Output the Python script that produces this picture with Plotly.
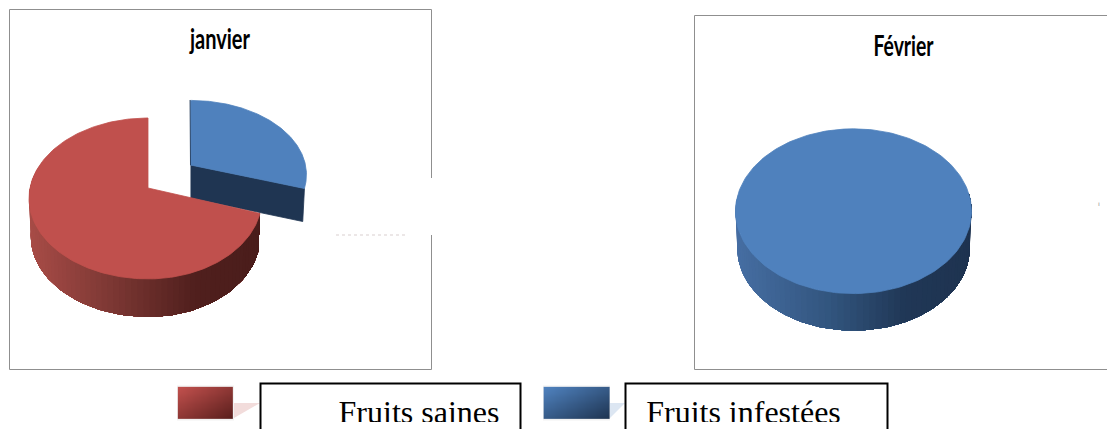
import numpy as np
import plotly.graph_objects as go

# Data
categories = ["Fruits saines", "Fruits infestées"]
months = ["janvier", "Février"]
janvier_values = [70, 30]
fevrier_values = [0, 100]

RED_TOP = "#C0504D"
BLUE_TOP = "#4F81BD"
BLUE_DARK = "#1F3552"
RED_WALL = [(0.0, (168, 76, 71)), (0.35, (125, 56, 52)), (0.72, (80, 31, 29)), (1.0, (74, 29, 27))]
BLUE_WALL = [(0.0, (70, 110, 163)), (0.4, (50, 85, 126)), (0.72, (32, 55, 86)), (1.0, (30, 51, 80))]

fig = go.Figure()


def poly(xs, ys, color, line=True):
    fig.add_trace(go.Scatter(
        x=list(xs), y=list(ys), mode="lines", fill="toself", fillcolor=color,
        line=dict(color=color, width=0.8 if line else 0),
        hoverinfo="skip", showlegend=False))


def rim(theta_deg, g, lower=False):
    """Projects pie angles (clockwise from 12 o'clock) on to the tilted disc."""
    t = np.radians(np.asarray(theta_deg, dtype=float))
    u, v = np.sin(t), -np.cos(t)
    w = 1 - g["k"] * v
    shrink = g["shrink"] if lower else 1.0
    b = np.where(u < 0, g["b_left"], g["b_right"]) * shrink
    x = g["x"] + b * u / w
    y = g["y"] + g["a"] * v / w + (g["depth"] if lower else 0)
    return x, y


def wall_colour(f, stops):
    f = min(max(f, 0), 1)
    for (f0, c0), (f1, c1) in zip(stops, stops[1:]):
        if f <= f1:
            m = (f - f0) / (f1 - f0)
            c = [round(p + (q - p) * m) for p, q in zip(c0, c1)]
            return f"rgb({c[0]},{c[1]},{c[2]})"
    return f"rgb{stops[-1][1]}"


def side_wall(start, end, g, stops):
    # Painted from the far end, each band reaching across all the later ones, so no seams show
    edges = np.linspace(end, start, 70)
    xt, yt = rim(edges, g)
    xb, yb = rim(edges, g, lower=True)
    lo, hi = xt.min(), xt.max()
    for i in range(len(edges) - 1):
        c = wall_colour(((xt[i] + xt[i + 1]) / 2 - lo) / (hi - lo), stops)
        poly(np.r_[xt[i:], xb[i:][::-1]], np.r_[yt[i:], yb[i:][::-1]], c, line=False)


def top_face(start, end, g, color, closed=False):
    th = np.linspace(start, end, 200)
    x, y = rim(th, g)
    if not closed:
        x, y = np.r_[g["x"], x, g["x"]], np.r_[g["y"], y, g["y"]]
    poly(x, y, color)


# January: exploded slice behind, main slice in front
jan_split = janvier_values[1] / sum(janvier_values) * 360
jan_blue = dict(x=190.5, y=165, a=73, k=0.13, b_left=115, b_right=115, depth=33, shrink=0.985)
jan_red = dict(x=148, y=188, a=79.1, k=0.13, b_left=118, b_right=113, depth=38, shrink=0.985)

ex, ey = rim([jan_split], jan_blue)
lx, ly = rim([jan_split], jan_blue, lower=True)
poly([jan_blue["x"], ex[0], lx[0], jan_blue["x"]],
     [jan_blue["y"], ey[0], ly[0], jan_blue["y"] + jan_blue["depth"]], BLUE_DARK)
top_face(0, jan_split, jan_blue, BLUE_TOP)
fig.add_trace(go.Scatter(x=[jan_blue["x"] - 0.5, jan_blue["x"]], y=[100, jan_blue["y"]], mode="lines",
                         line=dict(color=BLUE_DARK, width=0.8), hoverinfo="skip", showlegend=False))
side_wall(jan_split, 290, jan_red, RED_WALL)
top_face(jan_split, 360, jan_red, RED_TOP)

# February: the whole disc is one slice
feb_share = fevrier_values[1] / sum(fevrier_values) * 360
feb_blue = dict(x=853.5, y=200.5, a=81, k=0.13, b_left=117, b_right=117, depth=37, shrink=0.985)
side_wall(85, 275, feb_blue, BLUE_WALL)
top_face(0, feb_share, feb_blue, BLUE_TOP, closed=True)


def gradient_swatch(x0, x1, y0, y1, c0, c1):
    xs = np.linspace(x0, x1, 24)
    ys = np.linspace(y0, y1, 14)
    z = [[(i / 23 + j / 13) / 2 for i in range(24)] for j in range(14)]
    fig.add_trace(go.Heatmap(x=xs, y=ys, z=z, colorscale=[[0, c0], [1, c1]], zsmooth="best",
                             showscale=False, hoverinfo="skip"))


# Legend markers
gradient_swatch(179, 232, 388, 418, RED_TOP, "#5A1F1D")
gradient_swatch(545, 608, 388, 418, BLUE_TOP, BLUE_DARK)
poly([234, 260, 234], [403, 403, 418], "#F2DCDB", line=False)
poly([610, 625, 610], [403, 403, 418], "#DCE6F2", line=False)

# Titles and legend labels
fig.add_trace(go.Scatter(
    x=[220, 903.5], y=[42, 49], mode="text", text=months, hoverinfo="skip", showlegend=False,
    textfont=dict(family="Lato", size=29, color="black", weight="bold")))
fig.add_trace(go.Scatter(
    x=[419, 743.5], y=[415, 415], mode="text", text=categories, hoverinfo="skip", showlegend=False,
    textfont=dict(family="Liberation Serif", size=32, color="black")))
fig.add_trace(go.Scatter(
    x=[1099], y=[204], mode="text", text=["i"], hoverinfo="skip", showlegend=False,
    textfont=dict(family="Liberation Sans", size=6, color="#777777")))
fig.add_trace(go.Scatter(
    x=[336, 405], y=[235, 235], mode="lines", hoverinfo="skip", showlegend=False,
    line=dict(color="#d9cfcf", width=1, dash="dot")))

GREY = "#8f8f8f"
shapes = [
    dict(type="rect", x0=9.5, x1=431.5, y0=9.5, y1=369.5, line=dict(color=GREY, width=1), layer="below"),
    dict(type="rect", x0=694.5, x1=1120, y0=15.5, y1=369.5, line=dict(color=GREY, width=1), layer="below"),
    dict(type="rect", x0=425, x1=440, y0=178, y1=235, fillcolor="white", line_width=0, layer="below"),
    dict(type="rect", x0=177, x1=234, y0=385.5, y1=420.5, fillcolor="#F2F2F2", line_width=0, layer="below"),
    dict(type="rect", x0=543, x1=610, y0=385.5, y1=420.5, fillcolor="#F2F2F2", line_width=0, layer="below"),
    # Label boxes run past the bottom of the page; the white strip trims the lettering
    dict(type="rect", x0=262, x1=519, y0=422, y1=432, fillcolor="white", line_width=0, layer="above"),
    dict(type="rect", x0=627, x1=886, y0=422, y1=432, fillcolor="white", line_width=0, layer="above"),
    dict(type="rect", x0=260.5, x1=520.5, y0=383.5, y1=440, line=dict(color="black", width=2), layer="above"),
    dict(type="rect", x0=625.5, x1=887.5, y0=383.5, y1=440, line=dict(color="black", width=2), layer="above"),
]

fig.update_layout(
    width=1107, height=429, margin=dict(l=0, r=0, t=0, b=0),
    paper_bgcolor="white", plot_bgcolor="white", showlegend=False, shapes=shapes,
    xaxis=dict(range=[0, 1107], visible=False, fixedrange=True),
    yaxis=dict(range=[429, 0], visible=False, fixedrange=True),
)

# Condense the two heading lines to the narrow cut used in the chart titles
condense = """
document.querySelectorAll('.textpoint text').forEach(function (t) {
  if (t.textContent === 'janvier' || t.textContent === 'Février') {
    t.setAttribute('textLength', '60');
    t.setAttribute('lengthAdjust', 'spacingAndGlyphs');
  }
});
"""
fig.write_html("out.html", config=dict(displayModeBar=False), post_script=condense)
